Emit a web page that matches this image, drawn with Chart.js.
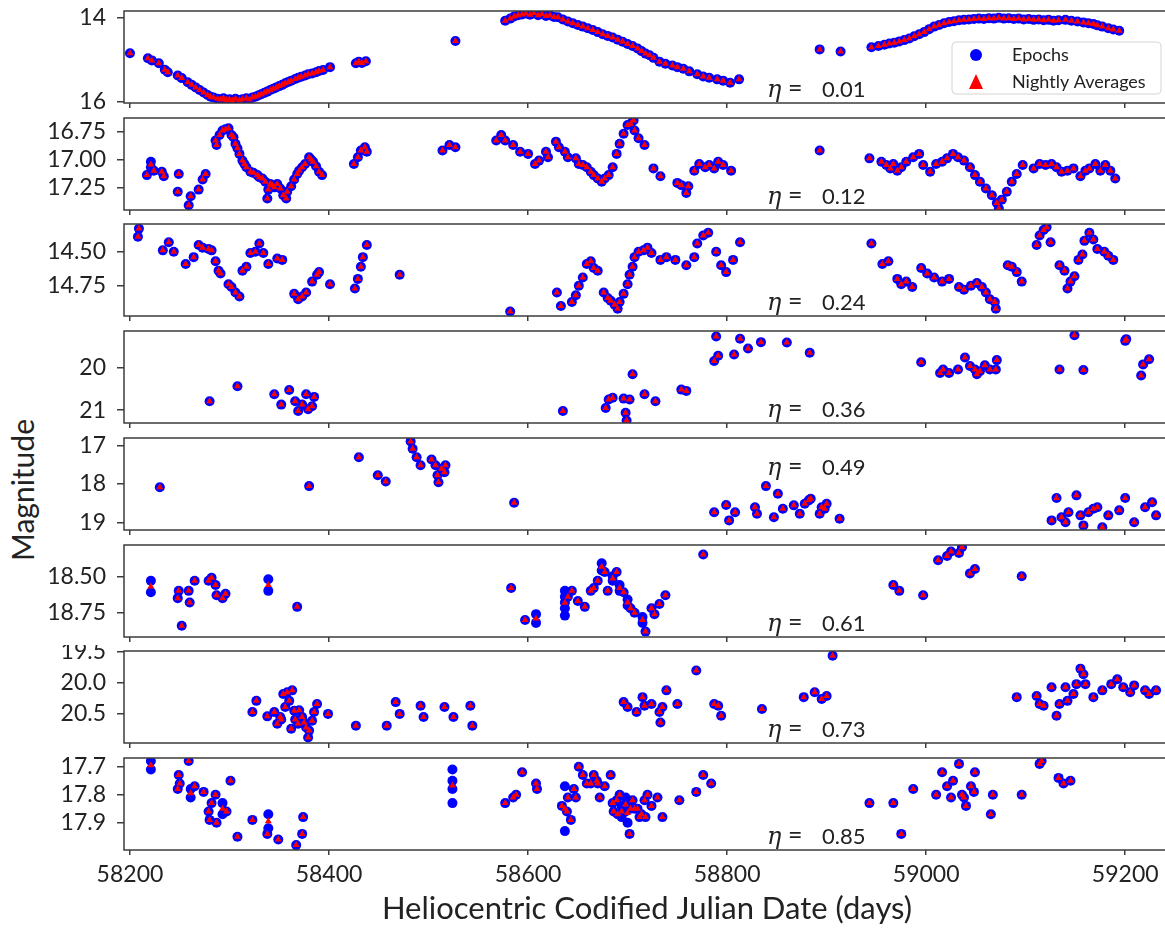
<!DOCTYPE html>
<html>
<head>
<meta charset="utf-8">
<title>Light curves</title>
<script src="https://cdn.jsdelivr.net/npm/chart.js@4.4.1/dist/chart.umd.min.js"></script>
<style>
  html, body { margin: 0; padding: 0; background: #fff; }
  body { width: 1165px; height: 931px; position: relative; overflow: hidden; }
  canvas.panel { position: absolute; left: 0; }
  #ylabel {
    position: absolute; left: 22px; top: 490px;
    transform: translate(-50%, -50%) rotate(-90deg);
    font: 30px Lato, "DejaVu Sans", sans-serif; color: #222; white-space: nowrap;
  }
</style>
</head>
<body>
<div id="ylabel">Magnitude</div>
<script>
// Shared x axis and panel labels
const xTickLabels = ['58200', '58400', '58600', '58800', '59000', '59200'];
const etaLabels = ['0.01', '0.12', '0.24', '0.36', '0.49', '0.61', '0.73', '0.85'];

// Magnitude ticks and limits for each panel (top value first, axis is inverted)
const yTickLabels = [
  ['14', '16'],
  ['16.75', '17.00', '17.25'],
  ['14.50', '14.75'],
  ['20', '21'],
  ['17', '18', '19'],
  ['18.50', '18.75'],
  ['19.5', '20.0', '20.5'],
  ['17.7', '17.8', '17.9']
];
const yLimits = [
  [13.85, 16.03], [16.628, 17.453], [14.296, 14.973], [19.15, 21.30],
  [16.81, 19.2], [18.285, 18.917], [19.495, 20.98], [17.669, 17.9975]
];

// Epochs [HCJD, magnitude] for each source
const p1Epochs = [
  [58200,14.85],[58218,14.97],[58222,15.02],[58229,15.09],[58235,15.24],[58238,15.3],[58248,15.38],[58252,15.44],
  [58258,15.54],[58262,15.6],[58266,15.66],[58270,15.72],[58274,15.78],[58278,15.84],[58281,15.88],[58284,15.9],
  [58288,15.93],[58291,15.95],[58294,15.92],[58297,15.96],[58300,15.94],[58303,15.97],[58306,15.93],[58310,15.96],
  [58313,15.94],[58317,15.92],[58320,15.95],[58323,15.9],[58326,15.88],[58329,15.85],[58332,15.82],[58335,15.79],
  [58338,15.76],[58341,15.72],[58344,15.69],[58347,15.66],[58350,15.63],[58353,15.6],[58356,15.56],[58359,15.53],
  [58362,15.5],[58366,15.46],[58369,15.43],[58372,15.41],[58376,15.38],[58379,15.35],[58383,15.33],[58387,15.3],
  [58390,15.27],[58394,15.25],[58401,15.18],
  [58427,15.09],[58430,15.05],[58433,15.08],[58437,15.04],
  [58527,14.56],
  [58577,14.08],[58582,14.03],[58586,13.98],[58590,13.95],[58594,13.93],[58598,13.91],[58602,13.94],[58606,13.9],
  [58610,13.95],[58614,13.92],[58618,13.97],[58622,13.95],[58626,13.99],[58630,14.0],[58635,14.05],[58640,14.1],
  [58645,14.14],[58650,14.18],[58655,14.22],[58660,14.26],[58665,14.3],[58670,14.35],[58675,14.4],[58680,14.44],
  [58685,14.48],[58690,14.53],[58695,14.58],[58700,14.63],[58705,14.68],[58710,14.74],[58714,14.8],[58718,14.86],
  [58722,14.9],[58726,14.96],[58732,15.05],[58738,15.1],[58745,15.14],[58750,15.18],[58756,15.22],[58762,15.28],
  [58770,15.35],[58776,15.4],[58782,15.43],[58790,15.47],[58796,15.5],[58803,15.55],[58812,15.47],
  [58893,14.76],[58914,14.81],[58945,14.71],[58952,14.68],[58958,14.65],[58963,14.62],[58968,14.6],[58973,14.57],
  [58978,14.54],[58983,14.5],[58988,14.45],[58993,14.4],[58998,14.35],[59003,14.28],[59008,14.22],[59013,14.18],
  [59018,14.14],[59023,14.11],[59028,14.09],[59033,14.07],[59038,14.06],[59043,14.05],[59048,14.04],[59053,14.03],
  [59058,14.04],[59063,14.02],[59068,14.03],[59073,14.01],[59078,14.03],[59083,14.02],[59088,14.04],[59093,14.03],
  [59098,14.05],[59103,14.04],[59108,14.06],[59113,14.05],[59118,14.07],[59123,14.06],[59128,14.08],[59133,14.07],
  [59140,14.06],[59146,14.08],[59152,14.1],[59158,14.12],[59163,14.14],[59168,14.16],[59172,14.19],[59177,14.22],
  [59183,14.26],[59188,14.29],[59194,14.32]
];
const p2Epochs = [
  [58217,17.14],[58221,17.02],[58221,17.07],[58224,17.1],[58232,17.11],[58234,17.15],[58249,17.13],[58248,17.29],
  [58259,17.41],[58261,17.33],[58269,17.27],[58273,17.18],[58276,17.13],[58286,16.83],[58287,16.87],[58290,16.78],
  [58293,16.74],[58296,16.73],[58299,16.72],[58302,16.78],[58304,16.8],[58306,16.86],[58308,16.9],[58310,16.95],
  [58313,17.01],[58315,17.04],[58317,17.07],[58321,17.11],[58324,17.12],[58328,17.14],[58330,17.16],[58333,17.17],
  [58336,17.2],[58338,17.35],[58339,17.27],[58341,17.22],[58343,17.23],[58345,17.25],[58348,17.22],[58351,17.26],
  [58354,17.32],[58357,17.35],[58358,17.29],[58362,17.24],[58365,17.18],[58368,17.13],[58370,17.1],[58373,17.07],
  [58376,17.04],[58380,16.98],[58382,17.0],[58384,17.02],[58387,17.06],[58390,17.11],[58393,17.14],
  [58425,17.04],[58429,16.98],[58432,16.92],[58436,16.89],[58438,16.93],
  [58514,16.92],[58521,16.87],[58527,16.89],
  [58568,16.83],[58573,16.78],[58577,16.83],[58585,16.87],[58592,16.93],[58600,16.95],[58607,17.04],[58611,17.01],
  [58618,16.93],[58620,16.98],[58628,16.84],[58631,16.89],[58637,16.93],[58640,16.98],[58648,16.99],[58651,17.04],
  [58655,17.05],[58659,17.07],[58663,17.11],[58666,17.14],[58670,17.17],[58674,17.2],[58677,17.17],[58681,17.14],
  [58685,17.07],[58689,16.95],[58692,16.86],[58696,16.77],[58700,16.69],[58703,16.68],[58706,16.65],[58707,16.74],
  [58711,16.81],[58717,16.87],
  [58726,17.08],[58733,17.15],[58750,17.21],[58754,17.23],[58759,17.3],[58761,17.24],[58767,17.1],[58772,17.04],
  [58778,17.07],[58782,17.05],[58787,17.08],[58791,17.02],[58796,17.05],[58804,17.1],
  [58893,16.92],
  [58943,16.99],[58955,17.02],[58960,17.05],[58964,17.08],[58967,17.04],[58971,17.1],[58975,17.07],[58980,17.02],
  [58987,16.98],[58993,16.95],[58997,17.05],[59004,17.11],[59010,17.04],[59016,17.02],[59021,16.99],[59027,16.95],
  [59032,16.98],[59038,17.01],[59044,17.07],[59049,17.14],[59054,17.2],[59060,17.26],[59066,17.32],[59071,17.39],
  [59073,17.44],[59076,17.36],[59081,17.29],[59086,17.2],[59091,17.13],[59097,17.05],[59108,17.08],[59114,17.04],
  [59120,17.05],[59126,17.04],[59131,17.07],[59136,17.11],[59142,17.1],[59148,17.08],[59155,17.15],[59160,17.1],
  [59164,17.08],[59170,17.04],[59175,17.1],[59180,17.05],[59185,17.1],[59190,17.17]
];
const p3Epochs = [
  [58208,14.39],[58209,14.33],[58233,14.49],[58239,14.43],[58244,14.5],[58256,14.59],[58264,14.54],[58269,14.45],
  [58273,14.47],[58279,14.48],[58282,14.49],[58286,14.57],[58289,14.64],[58291,14.66],[58299,14.74],[58302,14.76],
  [58306,14.8],[58310,14.83],[58313,14.64],[58317,14.61],[58321,14.51],[58326,14.5],[58330,14.44],[58334,14.51],
  [58339,14.59],[58348,14.55],[58353,14.56],
  [58365,14.81],[58369,14.85],[58373,14.83],[58377,14.8],[58383,14.72],[58388,14.67],[58390,14.65],[58401,14.74],
  [58426,14.77],[58429,14.7],[58432,14.61],[58434,14.54],[58438,14.45],
  [58471,14.67],
  [58582,14.94],
  [58629,14.8],[58633,14.9],[58644,14.87],[58648,14.82],[58651,14.75],[58655,14.69],[58659,14.59],[58663,14.57],
  [58666,14.62],[58670,14.64],[58676,14.8],[58680,14.84],[58683,14.86],[58687,14.89],[58690,14.92],[58692,14.87],
  [58696,14.81],[58700,14.74],[58702,14.67],[58705,14.61],[58707,14.54],[58711,14.5],[58716,14.49],[58720,14.47],
  [58724,14.51],[58733,14.56],[58739,14.54],[58748,14.56],[58759,14.6],[58767,14.54],[58770,14.44],[58776,14.38],
  [58781,14.36],[58789,14.5],[58794,14.6],[58799,14.65],[58806,14.56],[58813,14.43],
  [58945,14.44],[58956,14.59],[58962,14.57],[58971,14.7],[58975,14.74],[58980,14.72],[58986,14.76],[58995,14.62],
  [59001,14.66],[59008,14.69],[59016,14.72],[59023,14.7],[59033,14.76],[59038,14.78],[59045,14.75],[59051,14.73],
  [59056,14.76],[59060,14.8],[59064,14.85],[59069,14.87],[59070,14.92],
  [59082,14.6],[59086,14.61],[59091,14.65],[59096,14.72],
  [59111,14.45],[59114,14.38],[59118,14.34],[59121,14.32],[59125,14.43],[59134,14.6],[59139,14.64],[59142,14.77],
  [59145,14.72],[59149,14.68],[59153,14.56],[59157,14.52],[59159,14.42],[59164,14.36],[59168,14.41],[59172,14.48],
  [59179,14.5],[59183,14.53],[59188,14.56]
];
const p4Epochs = [
  [58280,20.79],[58308,20.44],[58345,20.63],[58352,20.87],[58360,20.53],[58366,20.79],[58369,21.02],[58373,20.87],
  [58377,20.63],[58379,20.98],[58383,20.91],[58385,20.69],
  [58635,21.02],[58678,20.95],[58681,20.75],[58685,20.71],[58696,20.73],[58698,21.06],[58699,21.24],[58702,20.75],
  [58705,20.16],[58717,20.63],[58728,20.79],[58754,20.52],[58759,20.55],
  [58787,19.85],[58791,19.73],[58789,19.28],[58807,19.7],[58813,19.33],[58821,19.56],[58834,19.41],[58860,19.42],
  [58883,19.66],
  [58995,19.88],[59014,20.13],[59017,20.05],[59023,20.13],[59032,20.05],[59039,19.77],[59044,19.97],[59049,20.05],
  [59051,20.16],[59054,20.09],[59059,19.95],[59064,20.05],[59071,19.83],[59070,20.05],
  [59134,20.05],[59149,19.25],[59158,20.06],[59200,19.38],[59201,19.34],[59216,20.19],[59218,19.93],[59224,19.81]
];
const p5Epochs = [
  [58230,18.09],[58380,18.06],[58430,17.31],[58449,17.78],[58457,17.94],[58482,16.9],[58484,17.09],[58488,17.31],
  [58492,17.52],[58503,17.37],[58507,17.52],[58509,17.78],[58510,17.96],[58513,17.61],[58516,17.7],[58517,17.52],
  [58586,18.49],
  [58787,18.74],[58799,18.55],[58802,18.95],[58808,18.74],[58828,18.61],[58830,18.78],[58839,18.06],[58847,18.87],
  [58851,18.26],[58856,18.65],[58867,18.56],[58873,18.78],[58878,18.52],[58882,18.43],[58884,18.39],[58893,18.78],
  [58895,18.61],[58898,18.65],[58900,18.52],[58913,18.91],
  [59126,18.95],[59131,18.37],[59136,18.87],[59140,19.0],[59143,18.74],[59151,18.3],[59155,18.82],[59158,19.08],
  [59163,18.74],[59168,18.65],[59172,18.61],[59177,19.13],[59183,18.82],[59194,18.69],[59200,18.37],[59209,19.0],
  [59220,18.61],[59227,18.48],[59231,18.82]
];
const p6Epochs = [
  [58221,18.53],[58221,18.61],[58249,18.6],[58248,18.65],[58252,18.84],[58259,18.6],[58260,18.68],[58265,18.53],
  [58279,18.53],[58282,18.51],[58286,18.56],[58287,18.63],[58293,18.65],[58296,18.62],[58339,18.52],[58339,18.6],
  [58368,18.71],
  [58583,18.58],[58597,18.8],[58608,18.76],[58608,18.82],
  [58637,18.6],[58637,18.64],[58637,18.68],[58637,18.72],[58637,18.77],[58640,18.64],[58644,18.6],[58650,18.67],
  [58657,18.71],[58663,18.6],[58666,18.58],[58670,18.53],[58674,18.41],[58674,18.46],[58677,18.47],[58680,18.6],
  [58685,18.53],[58685,18.5],[58689,18.47],[58692,18.56],[58692,18.6],[58696,18.61],[58700,18.66],[58700,18.7],
  [58703,18.72],[58707,18.75],[58715,18.82],[58715,18.78],[58718,18.88],[58724,18.72],[58727,18.76],[58732,18.69],
  [58738,18.63],
  [58776,18.35],
  [58967,18.56],[58973,18.6],[58997,18.63],[59012,18.39],[59021,18.36],[59025,18.33],[59033,18.34],[59036,18.3],
  [59044,18.48],[59049,18.45],[59096,18.5]
];
const p7Epochs = [
  [58323,20.48],[58327,20.3],[58338,20.55],[58345,20.48],[58348,20.67],[58351,20.56],[58352,20.6],[58354,20.19],
  [58356,20.4],[58358,20.16],[58360,20.3],[58362,20.75],[58363,20.13],[58365,20.46],[58366,20.6],[58369,20.67],
  [58370,20.45],[58373,20.56],[58375,20.65],[58377,20.73],[58379,20.89],[58380,20.78],[58383,20.62],[58385,20.48],
  [58388,20.35],[58399,20.51],[58427,20.7],[58458,20.7],[58467,20.32],[58471,20.51],[58492,20.38],[58495,20.56],
  [58516,20.4],[58525,20.56],[58542,20.38],[58544,20.7],
  [58696,20.32],[58700,20.4],[58709,20.48],[58715,20.24],[58717,20.38],[58724,20.35],[58732,20.48],[58733,20.65],
  [58735,20.4],[58739,20.13],[58750,20.35],[58769,19.81],[58787,20.35],[58791,20.38],[58794,20.54],[58835,20.43],
  [58877,20.24],[58888,20.16],[58895,20.27],[58900,20.22],[58906,19.57],
  [59091,20.24],[59111,20.22],[59114,20.35],[59118,20.38],[59126,20.08],[59131,20.54],[59134,20.35],[59140,20.08],
  [59142,20.3],[59148,20.19],[59151,20.03],[59155,19.78],[59158,19.87],[59160,20.03],[59168,20.24],[59177,20.13],
  [59186,20.03],[59192,19.95],[59198,20.08],[59205,20.16],[59209,20.05],[59220,20.13],[59224,20.19],[59231,20.13]
];
const p8Epochs = [
  [58221,17.68],[58221,17.71],[58249,17.73],[58250,17.76],[58248,17.78],[58259,17.68],[58261,17.78],[58261,17.81],
  [58265,17.77],[58274,17.79],[58279,17.86],[58280,17.89],[58282,17.83],[58286,17.8],[58287,17.9],[58293,17.87],
  [58293,17.83],[58297,17.86],[58301,17.75],[58308,17.95],[58323,17.89],[58338,17.94],[58339,17.87],[58339,17.92],
  [58349,17.96],[58367,17.98],[58373,17.94],[58374,17.88],
  [58524,17.71],[58524,17.75],[58524,17.78],[58524,17.83],
  [58577,17.83],[58585,17.81],[58588,17.8],[58594,17.72],[58608,17.76],[58609,17.78],
  [58634,17.84],[58637,17.77],[58637,17.93],[58639,17.86],[58640,17.81],[58643,17.89],[58646,17.78],[58648,17.81],
  [58651,17.7],[58655,17.73],[58659,17.76],[58663,17.76],[58666,17.73],[58669,17.75],[58670,17.76],[58672,17.81],
  [58677,17.77],[58683,17.73],[58685,17.83],[58686,17.86],[58689,17.82],[58690,17.87],[58692,17.8],[58694,17.84],
  [58694,17.88],[58698,17.81],[58698,17.86],[58700,17.83],[58700,17.9],[58702,17.94],[58703,17.85],[58705,17.82],
  [58707,17.85],[58710,17.85],[58712,17.88],[58714,17.87],[58717,17.82],[58718,17.88],[58720,17.8],[58724,17.84],
  [58730,17.81],[58735,17.88],[58752,17.82],[58769,17.79],[58776,17.73],[58784,17.76],
  [58943,17.83],[58967,17.83],[58975,17.94],[58987,17.78],[59010,17.8],[59016,17.72],[59021,17.77],[59025,17.81],
  [59027,17.75],[59033,17.69],[59036,17.8],[59038,17.81],[59040,17.84],[59045,17.77],[59049,17.72],[59048,17.79],
  [59065,17.87],[59067,17.8],[59096,17.8],[59114,17.69],[59116,17.68],[59133,17.74],[59138,17.76],[59145,17.75]
];

const panels = [p1Epochs, p2Epochs, p3Epochs, p4Epochs, p5Epochs, p6Epochs, p7Epochs, p8Epochs];

// Layout
const FONT = 'Lato, "DejaVu Sans", sans-serif';
const TEXT = '#222';
const AXIS = '#3c3c3c';
const PANEL_TOP = 11, PANEL_STEP = 106.7, PANEL_H = 92, PAD_TOP = 6;
const CANVAS_W = 1175, AXIS_W = 124, PAD_RIGHT = 4, PAGE_H = 931;

// Nightly average = mean magnitude of the epochs taken on the same night
function nightlyAverages(epochs) {
  const nights = new Map();
  epochs.forEach(([d, m]) => {
    const k = Math.floor(d);
    if (!nights.has(k)) nights.set(k, []);
    nights.get(k).push(m);
  });
  return [...nights].map(([k, ms]) => ({ x: k, y: ms.reduce((a, b) => a + b, 0) / ms.length }));
}

// Box round each panel
const framePlugin = {
  id: 'frame',
  afterDraw(chart) {
    const { ctx, chartArea: a } = chart;
    ctx.save();
    ctx.strokeStyle = AXIS;
    ctx.lineWidth = 1.5;
    ctx.strokeRect(a.left, a.top, a.right - a.left, a.bottom - a.top);
    ctx.restore();
  }
};

// "eta = value" label inside each panel
const etaPlugin = {
  id: 'eta',
  afterDraw(chart, args, opts) {
    const { ctx, chartArea: a } = chart;
    const base = opts.atTop ? a.top + 37 : a.bottom - 6.5;
    const x0 = a.left + 643;
    ctx.save();
    ctx.fillStyle = TEXT;
    ctx.textAlign = 'left';
    ctx.textBaseline = 'alphabetic';
    ctx.font = 'italic 24px "DejaVu Serif", serif';
    ctx.fillText('\u03b7', x0, base);
    ctx.font = '25px ' + FONT;
    ctx.fillText('=', x0 + 21, base);
    ctx.font = '22px ' + FONT;
    ctx.fillText(opts.text, x0 + 55, base);
    ctx.restore();
  }
};

// Legend box in the lower right of the first panel
const boxLegendPlugin = {
  id: 'boxLegend',
  afterDraw(chart, args, opts) {
    if (!opts.show) return;
    const { ctx, chartArea: a } = chart;
    const w = 209, h = 52;
    const l = a.right - 9 - w, t = a.bottom - 9 - h;
    const sets = chart.data.datasets;
    ctx.save();
    ctx.beginPath();
    if (ctx.roundRect) ctx.roundRect(l, t, w, h, 4); else ctx.rect(l, t, w, h);
    ctx.fillStyle = 'rgba(255,255,255,0.85)';
    ctx.fill();
    ctx.strokeStyle = '#d4d4d4';
    ctx.lineWidth = 1;
    ctx.stroke();

    ctx.fillStyle = sets[1].backgroundColor;
    ctx.beginPath();
    ctx.arc(l + 24, t + 13, 6, 0, Math.PI * 2);
    ctx.fill();

    ctx.fillStyle = sets[0].backgroundColor;
    ctx.beginPath();
    ctx.moveTo(l + 24, t + 32);
    ctx.lineTo(l + 31, t + 47);
    ctx.lineTo(l + 17, t + 47);
    ctx.closePath();
    ctx.fill();

    ctx.fillStyle = TEXT;
    ctx.font = '18px ' + FONT;
    ctx.textBaseline = 'middle';
    ctx.fillText(sets[1].label, l + 60, t + 13);
    ctx.fillText(sets[0].label, l + 60, t + 40);
    ctx.restore();
  }
};

panels.forEach((epochs, i) => {
  const last = i === panels.length - 1;
  const top = Math.round(PANEL_TOP + i * PANEL_STEP);
  const canvasTop = top - PAD_TOP;
  const canvasH = last ? PAGE_H - canvasTop : PAD_TOP + PANEL_H + 12;
  const xAxisH = canvasH - PAD_TOP - PANEL_H;
  const yTicks = yTickLabels[i];

  const canvas = document.createElement('canvas');
  canvas.className = 'panel';
  canvas.width = CANVAS_W;
  canvas.height = canvasH;
  canvas.style.top = canvasTop + 'px';
  document.body.appendChild(canvas);

  new Chart(canvas, {
    type: 'scatter',
    data: {
      datasets: [
        {
          label: 'Nightly Averages',
          data: nightlyAverages(epochs),
          pointStyle: 'triangle',
          pointRadius: 4,
          backgroundColor: '#ff0000',
          borderWidth: 0,
          order: 0,
          clip: 0
        },
        {
          label: 'Epochs',
          data: epochs.map(([x, y]) => ({ x, y })),
          pointStyle: 'circle',
          pointRadius: 5,
          backgroundColor: '#0000ff',
          borderWidth: 0,
          order: 1,
          clip: 0
        }
      ]
    },
    options: {
      responsive: false,
      animation: false,
      events: [],
      layout: { padding: { top: PAD_TOP, right: PAD_RIGHT, left: 0, bottom: 0 } },
      plugins: {
        legend: { display: false },
        tooltip: { enabled: false },
        eta: { text: etaLabels[i], atTop: i === 4 },
        boxLegend: { show: i === 0 }
      },
      scales: {
        x: {
          type: 'linear',
          min: 58194,
          max: 59245,
          afterBuildTicks: s => { s.ticks = xTickLabels.map(v => ({ value: +v })); },
          afterFit: s => {
            s.height = xAxisH;
            s.paddingLeft = 0;
            s.paddingRight = 0;
          },
          border: { display: false },
          grid: { drawOnChartArea: false, tickLength: 5, color: AXIS, lineWidth: 1.5 },
          ticks: {
            display: last,
            autoSkip: false,
            maxRotation: 0,
            padding: 6,
            color: TEXT,
            font: { family: FONT, size: 23 },
            callback: v => xTickLabels.find(t => +t === v)
          },
          title: {
            display: last,
            text: 'Heliocentric Codified Julian Date (days)',
            color: TEXT,
            font: { family: FONT, size: 31 },
            padding: { top: 0, bottom: 3 }
          }
        },
        y: {
          type: 'linear',
          reverse: true,
          min: yLimits[i][0],
          max: yLimits[i][1],
          afterBuildTicks: s => { s.ticks = yTicks.map(v => ({ value: parseFloat(v) })); },
          afterFit: s => {
            s.width = AXIS_W;
            s.paddingTop = 0;
            s.paddingBottom = 0;
          },
          border: { display: false },
          grid: { drawOnChartArea: false, tickLength: 7, color: AXIS, lineWidth: 1.5 },
          ticks: {
            padding: 11,
            color: TEXT,
            font: { family: FONT, size: 23 },
            callback: v => yTicks.find(t => parseFloat(t) === v)
          }
        }
      }
    },
    plugins: [framePlugin, etaPlugin, boxLegendPlugin]
  });
});
</script>
</body>
</html>
